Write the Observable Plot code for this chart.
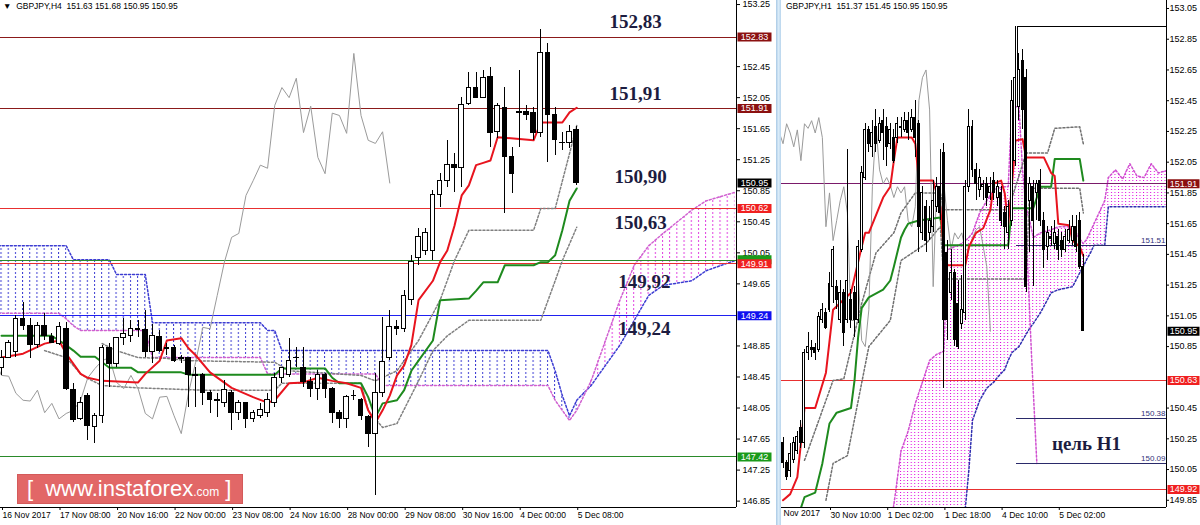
<!DOCTYPE html>
<html><head><meta charset="utf-8">
<script src="https://cdn.jsdelivr.net/npm/d3@7"></script>
<script src="https://cdn.jsdelivr.net/npm/@observablehq/plot@0.6"></script>
<style>
html,body{margin:0;padding:0;background:#fff;}
#wrap{position:relative;width:1200px;height:525px;overflow:hidden;background:#fff;}
#left,#right{position:absolute;top:0;}
#left{left:0;} #right{left:781px;}
#sep{position:absolute;left:776px;top:0;width:5px;height:525px;background:linear-gradient(90deg,#a9c9e5,#d9ebf8 50%,#b9d5ed);}
.hdr{position:absolute;top:1px;font-family:"Liberation Sans",Arial,sans-serif;font-size:8.5px;color:#000;white-space:pre;}
#logo{position:absolute;left:17px;top:474px;width:226px;height:30px;background:#e26767;border:1px solid #d45a5a;box-sizing:border-box;color:#fff;font-family:"Liberation Sans",Arial,sans-serif;white-space:pre;line-height:28px;}
#logo .b{font-size:22px;} #logo .s{font-size:12px;}
</style></head><body>
<svg width="0" height="0" style="position:absolute"><defs>
<pattern id="hbL" patternUnits="userSpaceOnUse" x="0.5" y="0" width="7.19" height="4"><rect x="0" y="0" width="1" height="2" fill="#3c3cd2"/></pattern>
<pattern id="hmL" patternUnits="userSpaceOnUse" x="0.5" y="0" width="7.19" height="4"><rect x="0" y="0" width="1" height="2" fill="#e040e0"/></pattern>
<pattern id="hmR" patternUnits="userSpaceOnUse" x="1" y="0" width="3.575" height="3"><rect x="0" y="0" width="1" height="1" fill="#e000e0"/></pattern>
<pattern id="hbR" patternUnits="userSpaceOnUse" x="1" y="0" width="3.575" height="3"><rect x="0" y="0" width="1" height="1" fill="#4040d0"/></pattern>
</defs></svg>
<div id="wrap">
  <div id="left"></div><div id="sep"></div><div id="right"></div>
  <div class="hdr" style="left:3px">▼  GBPJPY,H4  151.63 151.68 150.95 150.95</div>
  <div class="hdr" style="left:786px">GBPJPY,H1  151.37 151.45 150.95 150.95</div>
  <div id="logo">  <span class="b">[  www.instaforex</span><span class="s">.com</span><span class="b"> ]</span></div>
</div>
<script>
// ---------------- LEFT (H4) DATA ----------------
const L_TICKS_Y = [146.85,147.25,147.65,148.05,148.45,148.85,149.65,150.05,150.45,150.85,151.25,151.65,152.05,152.45,153.25];
const L_TICKS_X = [0,8,16,24,32,40,48,56,64,72,80];
const L_TICK_LABELS = ["16 Nov 2017","17 Nov 08:00","20 Nov 16:00","22 Nov 00:00","23 Nov 08:00","24 Nov 16:00","28 Nov 00:00","29 Nov 08:00","30 Nov 16:00","4 Dec 00:00","5 Dec 08:00"];
// [bar, open, high, low, close]
const L_CANDLES = [
[0,148.57,148.79,148.47,148.70],[1,148.70,148.92,148.69,148.89],[2,148.77,149.24,148.70,149.20],[3,149.20,149.41,149.05,149.11],
[4,149.11,149.20,148.69,148.86],[5,148.86,149.15,148.82,149.11],[6,149.11,149.27,148.92,148.98],[7,148.96,149.01,148.88,148.89],
[8,148.88,149.15,148.86,149.09],[9,149.07,149.15,148.28,148.30],[10,148.28,148.37,147.86,147.89],[11,147.91,148.19,147.89,148.12],
[12,148.21,148.24,147.63,147.82],[13,147.80,147.98,147.59,147.95],[14,147.95,148.86,147.85,148.83],[15,148.83,148.88,148.31,148.62],
[16,148.62,148.96,148.57,148.95],[17,148.95,149.20,148.86,149.01],[18,148.98,149.18,148.89,149.07],[19,149.07,149.18,148.96,149.06],
[20,149.05,149.31,148.70,148.77],[21,148.77,149.13,148.62,148.98],[22,148.97,149.05,148.77,148.79],[23,148.82,148.88,148.73,148.81],
[24,148.82,148.86,148.64,148.66],[25,148.69,148.73,148.62,148.68],[26,148.69,148.70,148.06,148.47],[27,148.47,148.57,148.06,148.46],
[28,148.47,148.50,148.08,148.24],[29,148.25,148.28,147.98,148.15],[30,148.15,148.24,147.93,148.14],[31,148.12,148.40,148.06,148.28],
[32,148.25,148.28,147.76,147.99],[33,147.99,148.15,147.89,148.11],[34,148.11,148.12,147.79,147.91],[35,147.91,148.02,147.86,147.98],
[36,147.95,148.11,147.91,148.02],[37,147.99,148.24,147.93,148.15],[38,148.12,148.49,148.06,148.44],[39,148.44,148.57,148.37,148.56],
[40,148.47,148.95,148.44,148.66],[41,148.69,148.83,148.57,148.70],[42,148.56,148.83,148.31,148.38],[43,148.38,148.44,148.19,148.30],
[44,148.30,148.53,148.15,148.47],[45,148.47,148.49,148.17,148.30],[46,148.30,148.31,147.85,147.98],[47,147.98,148.02,147.79,147.91],
[48,147.91,148.21,147.79,148.19],[49,148.21,148.28,148.15,148.20],[50,148.15,148.17,147.89,147.95],[51,147.93,147.95,147.54,147.72],
[52,147.72,148.49,146.92,148.24],[53,148.24,149.22,148.19,148.64],[54,148.69,149.31,148.66,149.09],[55,149.09,149.18,148.98,149.07],
[56,149.07,149.56,149.02,149.50],[57,149.44,150.02,149.37,149.93],[58,149.98,150.36,149.89,150.25],[59,150.08,150.36,150.02,150.30],
[60,150.08,150.85,149.95,150.79],[61,150.79,151.07,150.63,150.98],[62,150.98,151.50,150.89,151.18],[63,151.18,151.33,150.83,151.14],
[64,151.14,152.05,150.89,151.95],[65,151.97,152.37,151.95,152.18],[66,152.18,152.37,152.04,152.05],[67,152.05,152.40,152.04,152.30],
[68,152.31,152.44,151.41,151.60],[69,151.61,151.97,151.52,151.94],[70,151.92,152.18,150.56,151.28],[71,151.28,151.41,150.81,151.07],
[72,151.86,152.40,151.41,151.85],[73,151.86,151.95,151.75,151.82],[74,151.85,151.92,151.50,151.59],[75,151.59,152.93,151.54,152.62],
[76,152.62,152.75,151.21,151.82],[77,151.83,151.92,151.30,151.50],[78,151.47,151.60,151.37,151.46],[79,151.46,151.69,151.39,151.61],
[80,151.63,151.68,150.92,150.95]];
const L_TENKAN = [[0,148.70],[3,148.75],[6,148.88],[8,148.92],[9,148.75],[11,148.49],[12,148.44],[14,148.40],[19,148.38],[20,148.49],[22,148.66],[23,148.92],[25,148.95],[26,148.82],[27,148.73],[29,148.51],[32,148.31],[35,148.19],[37,148.12],[38,148.15],[40,148.37],[42,148.38],[44,148.44],[46,148.40],[48,148.37],[50,148.31],[51,148.02],[52,147.86],[53,148.02],[54,148.21],[55,148.47],[56,148.60],[57,148.86],[58,149.44],[60,149.69],[61,149.93],[62,150.08],[63,150.40],[64,150.79],[65,150.92],[66,151.18],[67,151.21],[68,151.24],[69,151.54],[74,151.50],[75,151.73],[78,151.73],[79,151.86],[80,151.92]];
const L_KIJUN = [[0,148.98],[7,148.98],[8,148.92],[9,148.86],[10,148.79],[11,148.71],[13,148.71],[14,148.64],[15,148.57],[18,148.57],[19,148.51],[25,148.51],[26,148.48],[38,148.48],[39,148.56],[45,148.56],[46,148.44],[47,148.37],[50,148.37],[51,148.19],[52,147.93],[53,148.11],[55,148.15],[56,148.28],[57,148.53],[58,148.66],[60,148.92],[61,149.44],[65,149.46],[66,149.56],[67,149.67],[69,149.67],[70,149.89],[74,149.89],[75,149.93],[76,149.93],[77,150.02],[78,150.34],[79,150.72],[80,150.88]];
const L_GUP = [[14,148.88],[16,148.79],[19,148.70],[23,148.69],[26,148.66],[38,148.64],[40,148.53],[50,148.47],[52,148.40],[55,148.53],[58,148.92],[61,149.44],[63,149.95],[65,150.34],[74,150.34],[75,150.62],[77,150.62],[79,151.33],[80,151.69]];
const L_GLOW = [[6,148.79],[9,148.70],[11,148.49],[12,148.43],[14,148.34],[19,148.31],[28,148.28],[38,148.28],[39,148.37],[50,148.37],[51,148.02],[53,147.80],[55,147.85],[58,148.40],[60,148.79],[62,148.98],[65,149.18],[75,149.18],[77,149.69],[78,149.95],[80,150.38]];
// [bar, senkou A, senkou B]
const L_CLOUD = [[-1,149.27,150.14],[8,149.27,150.14],[9,149.20,150.14],[10,149.11,149.96],[11,149.05,149.96],[15,149.05,149.96],[16,149.05,149.77],[20,149.05,149.77],[21,148.70,149.15],[36,148.70,149.15],[37,148.49,149.05],[38,148.49,149.05],[39,148.49,148.79],[52,148.49,148.79],[53,148.34,148.79],[76,148.34,148.79],[77,148.15,148.53],[78,148.02,148.21],[79,147.89,147.95],[80,148.02,148.15],[82,148.40,148.34],[84,148.92,148.60],[86,149.44,148.86],[88,149.89,149.18],[90,150.14,149.50],[92,150.30,149.63],[96,150.60,149.69],[98,150.72,149.82],[102,150.83,149.95]];
const L_LEVELS = [[152.83,"#8b1a1a"],[151.91,"#8b1a1a"],[150.62,"#e83030"],[149.95,"#2a8a2a"],[149.91,"#e83030"],[149.24,"#2020f0"],[147.42,"#2a8a2a"]];
const L_BOXES = [[152.83,"#8b1010"],[151.91,"#8b1010"],[150.95,"#000000"],[150.62,"#f02020"],[149.91,"#f02020"],[149.24,"#1010f0"],[147.42,"#1a9a1a"]];
const L_MARKER = [[149.96,"#1a9a1a"]];
const L_NOTES = [["152,83",88.2,153.02],["151,91",88.2,152.10],["150,90",88.9,151.03],["150,63",88.9,150.44],["149,92",89.4,149.67],["149,24",89.4,149.07]];

// ---------------- RIGHT (H1) DATA ----------------
const R_TICKS_Y = [149.85,150.05,150.25,150.45,150.85,151.05,151.25,151.45,151.65,151.85,152.05,152.25,152.45,152.65,152.85,153.05];
const R_TICKS_X = [0,16,32,48,64];
const R_TICK_LABELS = ["30 Nov 10:00","1 Dec 02:00","1 Dec 18:00","4 Dec 10:00","5 Dec 02:00"];
const R_CANDLES = [
[-13,150.22,150.26,150.06,150.09],[-12,150.09,150.11,149.98,150.00],[-11,150.04,150.22,150.00,150.15],[-10,150.11,150.26,150.09,150.22],
[-9,150.17,150.30,150.15,150.26],[-8,150.32,150.37,150.19,150.22],[-7,150.22,150.83,150.19,150.81],[-6,150.81,150.94,150.76,150.85],
[-5,150.84,150.89,150.78,150.83],[-4,150.84,150.87,150.76,150.81],[-3,150.83,151.07,150.81,151.04],[-2,151.02,151.13,151.00,151.09],
[-1,151.07,151.10,150.96,150.97],[0,151.09,151.33,151.07,151.26],[1,151.24,151.50,151.13,151.48],[2,151.24,151.28,151.09,151.15],
[3,151.02,151.28,151.00,151.20],[4,151.20,151.22,150.85,150.94],[5,151.02,152.13,151.00,151.28],[6,151.15,151.22,150.97,151.02],
[7,151.20,151.24,150.91,151.02],[8,151.02,151.54,151.00,151.50],[9,151.48,152.02,151.46,151.98],[10,151.95,152.30,151.93,152.26],
[11,152.26,152.28,152.11,152.17],[12,152.15,152.32,152.08,152.24],[13,152.28,152.39,152.11,152.17],[14,152.19,152.34,152.17,152.30],
[15,152.32,152.39,152.06,152.24],[16,152.28,152.34,152.02,152.15],[17,152.17,152.30,152.13,152.26],[18,152.21,152.26,152.04,152.06],
[19,152.21,152.34,152.17,152.30],[20,152.28,152.34,152.21,152.27],[21,152.26,152.37,152.24,152.32],[22,152.32,152.37,152.19,152.24],
[23,152.26,152.39,152.24,152.34],[24,152.34,152.45,152.08,152.21],[25,152.30,152.32,151.46,151.63],[26,151.59,151.89,151.54,151.85],
[27,151.76,151.80,151.46,151.54],[28,151.59,151.76,151.54,151.67],[29,151.63,151.93,151.59,151.80],[30,151.76,151.95,151.72,151.89],
[31,151.89,152.13,151.67,151.72],[32,152.11,152.17,150.58,151.02],[33,151.46,151.54,150.89,151.02],[34,151.20,151.48,151.15,151.33],
[35,151.33,151.35,150.85,150.89],[36,151.13,151.28,150.83,150.85],[37,151.00,151.31,150.96,151.09],[38,151.07,151.93,151.02,151.89],
[39,151.89,152.39,151.85,152.28],[40,152.28,152.32,151.95,152.00],[41,152.00,152.04,151.80,151.91],[42,151.87,152.00,151.82,151.95],
[43,151.89,151.93,151.80,151.90],[44,151.91,151.95,151.76,151.82],[45,151.85,151.95,151.80,151.89],[46,151.93,151.98,151.80,151.85],
[47,151.82,151.93,151.76,151.89],[48,151.85,151.89,151.63,151.67],[49,151.72,151.76,151.48,151.63],[50,151.59,151.80,151.48,151.76],
[51,151.67,152.58,151.63,152.45],[52,152.06,152.93,152.02,152.60],[53,152.41,152.76,152.32,152.65],[54,152.71,152.78,152.26,152.39],
[55,152.60,152.65,151.20,151.24],[56,151.80,151.95,151.46,151.91],[57,151.89,151.93,151.24,151.67],[58,151.85,151.93,151.67,151.91],
[59,151.93,152.00,151.63,151.67],[60,151.67,151.72,151.36,151.48],[61,151.50,151.63,151.41,151.59],[62,151.56,151.63,151.50,151.55],
[63,151.52,151.67,151.48,151.59],[64,151.56,151.61,151.41,151.48],[65,151.54,151.59,151.43,151.48],[66,151.48,151.61,151.46,151.56],
[67,151.54,151.67,151.52,151.61],[68,151.54,151.70,151.51,151.63],[69,151.63,151.70,151.46,151.50],[70,151.67,151.72,151.35,151.37],
[71,151.37,151.45,150.95,150.95]];
const R_TENKAN = [[-13,149.85],[-11,149.89],[-9,150.00],[-8,150.22],[-7,150.45],[-4,150.45],[-1,150.68],[1,151.09],[6,151.20],[7,151.30],[9,151.50],[10,151.59],[11,151.59],[15,151.82],[17,151.89],[18,152.06],[19,152.21],[23,152.21],[24,152.17],[25,151.93],[29,151.93],[31,151.76],[32,151.46],[33,151.38],[38,151.38],[39,151.50],[41,151.59],[43,151.62],[45,151.74],[46,151.91],[48,151.93],[49,151.85],[50,151.65],[51,151.89],[52,152.19],[54,152.20],[55,152.08],[60,152.08],[62,151.98],[63,151.96],[64,151.65],[67,151.64],[68,151.54],[70,151.50],[71,151.44]];
const R_KIJUN = [[-8,149.80],[-7,149.87],[-4,149.90],[-2,150.09],[0,150.35],[2,150.42],[6,150.45],[7,150.63],[8,150.91],[9,151.10],[11,151.17],[15,151.22],[17,151.28],[18,151.37],[20,151.56],[21,151.61],[22,151.65],[25,151.67],[31,151.69],[32,151.51],[50,151.51],[51,151.75],[57,151.75],[59,151.89],[62,151.89],[63,152.07],[70,152.07],[71,151.93]];
const R_GUP = [[-7,150.11],[1,150.63],[4,150.64],[9,151.13],[13,151.46],[18,151.59],[20,151.72],[24,151.85],[31,151.85],[32,151.74],[50,151.74],[55,152.11],[61,152.11],[63,152.27],[70,152.28],[71,152.17]];
const R_GLOW = [[-1,149.85],[1,150.09],[5,150.14],[11,150.85],[17,151.02],[20,151.41],[27,151.52],[31,151.63],[32,151.29],[55,151.29],[56,151.88],[70,151.88],[71,151.72]];
const R_CLOUD = [[17,149.70,149.50],[18,149.82,149.50],[20,150.17,149.50],[22,150.30,149.50],[24,150.48,149.50],[26,150.62,149.50],[28,150.76,149.50],[30,150.80,149.50],[32,150.82,149.50],[33,151.48,149.50],[35,151.50,149.50],[37,151.52,149.60],[38,151.54,149.80],[39,151.56,150.05],[40,151.59,150.37],[42,151.72,150.50],[44,151.80,150.58],[46,151.87,150.62],[47,151.88,150.65],[49,151.89,150.70],[50,151.89,150.76],[51,152.41,150.81],[53,152.41,150.85],[54,152.00,150.89],[55,151.75,150.93],[56,151.67,150.97],[57,151.56,151.00],[59,151.59,151.07],[62,151.61,151.20],[64,151.63,151.22],[68,151.63,151.24],[70,151.55,151.33],[71,151.52,151.37],[72,151.55,151.42],[73,151.60,151.46],[74,151.65,151.51],[76,151.75,151.51],[77,151.80,151.51],[78,151.95,151.76],[80,152.00,151.76],[82,151.94,151.76],[84,152.04,151.76],[86,151.96,151.76],[88,151.95,151.76],[90,152.04,151.76],[92,151.98,151.76],[95,152.00,151.76]];
const R_PROJ = [[55,151.60],[56.5,150.80],[58,150.09]];
const R_LEVELS = [[151.91,"#7a1a6a"],[150.63,"#e83030"],[149.92,"#e83030"]];
const R_FIBS = [[151.51,52.3],[150.38,52.3],[150.09,52.3]];
const R_HIGH = [152.93, 52.6, 152.45];
const R_BOXES = [[151.91,"#8b1010"],[150.95,"#000000"],[150.63,"#f02020"],[149.92,"#f02020"]];
const R_NOTE = ["цель H1", 71.9, 150.22];

// ---------------- helpers ----------------
const C = a => a.map(([i,o,h,l,c]) => ({i,o,h,l,c}));
const P = a => a.map(([i,p]) => ({i,p}));
const S = a => a.map(([i,a2,b]) => ({i,a:a2,b}));
const FONT = "'Liberation Sans', Arial, sans-serif";
const SERIF = "'Liberation Serif','Times New Roman',serif";
const boxSymbol = (w,h) => ({draw(ctx){ctx.moveTo(-w/2,-h/2);ctx.lineTo(w/2,-h/2);ctx.lineTo(w/2,h/2);ctx.lineTo(-w/2,h/2);ctx.closePath();}});

function candles(data, inset){
  const up = data.filter(d => d.c >= d.o), dn = data.filter(d => d.c < d.o);
  return [
    Plot.ruleX(data, {x:"i", y1:"l", y2:"h", stroke:"#000", strokeWidth:1, shapeRendering:"crispEdges", clip:true}),
    Plot.rect(up, {x1:d=>d.i-0.5, x2:d=>d.i+0.5, y1:"o", y2:"c", insetLeft:inset, insetRight:inset, fill:"#fff", stroke:"#000", shapeRendering:"crispEdges", clip:true}),
    Plot.rect(dn, {x1:d=>d.i-0.5, x2:d=>d.i+0.5, y1:"o", y2:"c", insetLeft:inset, insetRight:inset, fill:"#000", stroke:"#000", shapeRendering:"crispEdges", clip:true})
  ];
}
function boxes(data, dx, w, withText=true){
  const d = data.map(([p,c]) => ({p,c}));
  const m = [Plot.dot(d, {y:"p", frameAnchor:"right", dx, symbol: boxSymbol(w,9), fill: d=>d.c, stroke:"none"})];
  if (withText) m.push(Plot.text(d, {y:"p", frameAnchor:"right", dx, text: d=>d.p.toFixed(2), fill:"#fff", fontSize:9, textAnchor:"middle", fontFamily: FONT}));
  return m;
}

// ---------------- LEFT PLOT ----------------
const lc = C(L_CANDLES);
const lCloud = S(L_CLOUD);
const lxd = [-0.14, 102.22], lyd = [146.768, 153.302];
const leftPlot = Plot.plot({
  width: 776, height: 525, marginLeft: 0, marginRight: 40, marginTop: 0, marginBottom: 18,
  x: {domain: lxd, label: null}, y: {domain: lyd, label: null},
  color: {type: "identity"},
  style: {fontFamily: FONT, fontSize: "9px", background: "transparent", color: "#000", overflow: "visible"},
  marks: [
    Plot.areaY(lCloud, {x:"i", y1:"a", y2:d=>Math.max(d.a,d.b), fill:"url(#hbL)", clip:true}),
    Plot.areaY(lCloud, {x:"i", y1:"b", y2:d=>Math.max(d.a,d.b), fill:"url(#hmL)", clip:true}),
    Plot.line(lCloud, {x:"i", y:"b", stroke:"#3c3cd2", strokeDasharray:"2,2", clip:true}),
    Plot.line(lCloud, {x:"i", y:"a", stroke:"#d060d0", strokeDasharray:"2,2", clip:true}),
    Plot.ruleY(L_LEVELS.map(([p,c])=>({p,c})), {y:"p", stroke:d=>d.c, strokeWidth:1, shapeRendering:"crispEdges"}),
    Plot.line(P(L_GUP), {x:"i", y:"p", stroke:"#808080", strokeDasharray:"2,2", clip:true}),
    Plot.line(P(L_GLOW), {x:"i", y:"p", stroke:"#808080", strokeDasharray:"2,2", clip:true}),
    Plot.line(lc.map(d=>({i:d.i-26, p:d.c})), {x:"i", y:"p", stroke:"#9a9a9a", strokeWidth:1, clip:true}),
    Plot.line(P(L_KIJUN), {x:"i", y:"p", stroke:"#1e8a1e", strokeWidth:2, clip:true}),
    Plot.line(P(L_TENKAN), {x:"i", y:"p", stroke:"#e8141e", strokeWidth:2, clip:true}),
    ...candles(lc, 1.3),
    Plot.text(L_NOTES.map(([t,i,p])=>({t,i,p})), {x:"i", y:"p", text:"t", fontFamily:SERIF, fontWeight:"bold", fontSize:19, fill:"#1c1c40"}),
    Plot.ruleX([lxd[1]], {stroke:"#000", shapeRendering:"crispEdges"}),
    Plot.ruleY([lyd[0]], {stroke:"#000", shapeRendering:"crispEdges"}),
    Plot.axisY({anchor:"right", label:null, ticks:L_TICKS_Y, tickFormat:d=>d.toFixed(2), tickSize:3, tickPadding:3, fontSize:9}),
    Plot.axisX({label:null, ticks:L_TICKS_X, tickFormat:d=>L_TICK_LABELS[L_TICKS_X.indexOf(d)], textAnchor:"start", tickSize:3, tickPadding:1, fontSize:8.5, dx:1}),
    ...boxes(L_MARKER, 18, 34, false),
    ...boxes(L_BOXES, 18, 34)
  ]
});
document.getElementById("left").appendChild(leftPlot);

// ---------------- RIGHT PLOT ----------------
const rc = C(R_CANDLES);
const rCloud = S(R_CLOUD);
const rxd = [-13.43, 94.27], ryd = [149.803, 153.102];
const rightPlot = Plot.plot({
  width: 419, height: 525, marginLeft: 0, marginRight: 34, marginTop: 0, marginBottom: 18,
  x: {domain: rxd, label: null}, y: {domain: ryd, label: null},
  color: {type: "identity"},
  style: {fontFamily: FONT, fontSize: "9px", background: "transparent", color: "#000", overflow: "hidden"},
  marks: [
    Plot.areaY(rCloud, {x:"i", y1:"b", y2:d=>Math.max(d.a,d.b), fill:"url(#hmR)", clip:true}),
    Plot.areaY(rCloud, {x:"i", y1:"a", y2:d=>Math.max(d.a,d.b), fill:"url(#hbR)", clip:true}),
    Plot.line(rCloud, {x:"i", y:"b", stroke:"#3030b0", strokeDasharray:"2,2", clip:true}),
    Plot.line(rCloud, {x:"i", y:"a", stroke:"#d050d0", strokeDasharray:"2,2", clip:true}),
    Plot.line(P(R_PROJ), {x:"i", y:"p", stroke:"#d050d0", strokeDasharray:"2,2", clip:true}),
    Plot.ruleY(R_LEVELS.map(([p,c])=>({p,c})), {y:"p", stroke:d=>d.c, shapeRendering:"crispEdges"}),
    Plot.ruleY(R_FIBS.map(([p,j])=>({p,j})), {y:"p", x1:"j", x2:()=>rxd[1], stroke:"#2a2a6a", shapeRendering:"crispEdges"}),
    Plot.text(R_FIBS.map(([p,j])=>({p,j})), {y:"p", frameAnchor:"right", dx:-1, dy:-5, textAnchor:"end", text:d=>d.p.toFixed(2), fontSize:8, fill:"#33337a"}),
    Plot.ruleY([R_HIGH], {y:d=>d[0], x1:d=>d[1], x2:()=>rxd[1], stroke:"#000", shapeRendering:"crispEdges"}),
    Plot.ruleX([R_HIGH], {x:d=>d[1], y1:d=>d[0], y2:d=>d[2], stroke:"#000", shapeRendering:"crispEdges"}),
    Plot.line(P(R_GUP), {x:"i", y:"p", stroke:"#707070", strokeDasharray:"2,2", clip:true}),
    Plot.line(P(R_GLOW), {x:"i", y:"p", stroke:"#707070", strokeDasharray:"2,2", clip:true}),
    Plot.line(rc.map(d=>({i:d.i-26, p:d.c})), {x:"i", y:"p", stroke:"#9a9a9a", strokeWidth:1, clip:true}),
    Plot.line(P(R_KIJUN), {x:"i", y:"p", stroke:"#1e8a1e", strokeWidth:2, clip:true}),
    Plot.line(P(R_TENKAN), {x:"i", y:"p", stroke:"#e8141e", strokeWidth:2, clip:true}),
    ...candles(rc, 0.8),
    Plot.text([R_NOTE], {x:d=>d[1], y:d=>d[2], text:d=>d[0], fontFamily:SERIF, fontWeight:"bold", fontSize:19, fill:"#1c1c40"}),
    Plot.ruleX([rxd[1]], {stroke:"#000", shapeRendering:"crispEdges"}),
    Plot.ruleY([ryd[0]], {stroke:"#000", shapeRendering:"crispEdges"}),
    Plot.axisY({anchor:"right", label:null, ticks:R_TICKS_Y, tickFormat:d=>d.toFixed(2), tickSize:2, tickPadding:1, fontSize:9}),
    Plot.axisX({label:null, ticks:R_TICKS_X, tickFormat:d=>R_TICK_LABELS[R_TICKS_X.indexOf(d)], textAnchor:"start", tickSize:3, tickPadding:1, fontSize:8.5, dx:1}),
    Plot.text(["Nov 2017"], {frameAnchor:"bottom-left", dx:2, dy:8, textAnchor:"start", fontSize:8.5, text:d=>d}),
    ...boxes(R_BOXES, 17, 32)
  ]
});
document.getElementById("right").appendChild(rightPlot);
</script>
</body></html>
